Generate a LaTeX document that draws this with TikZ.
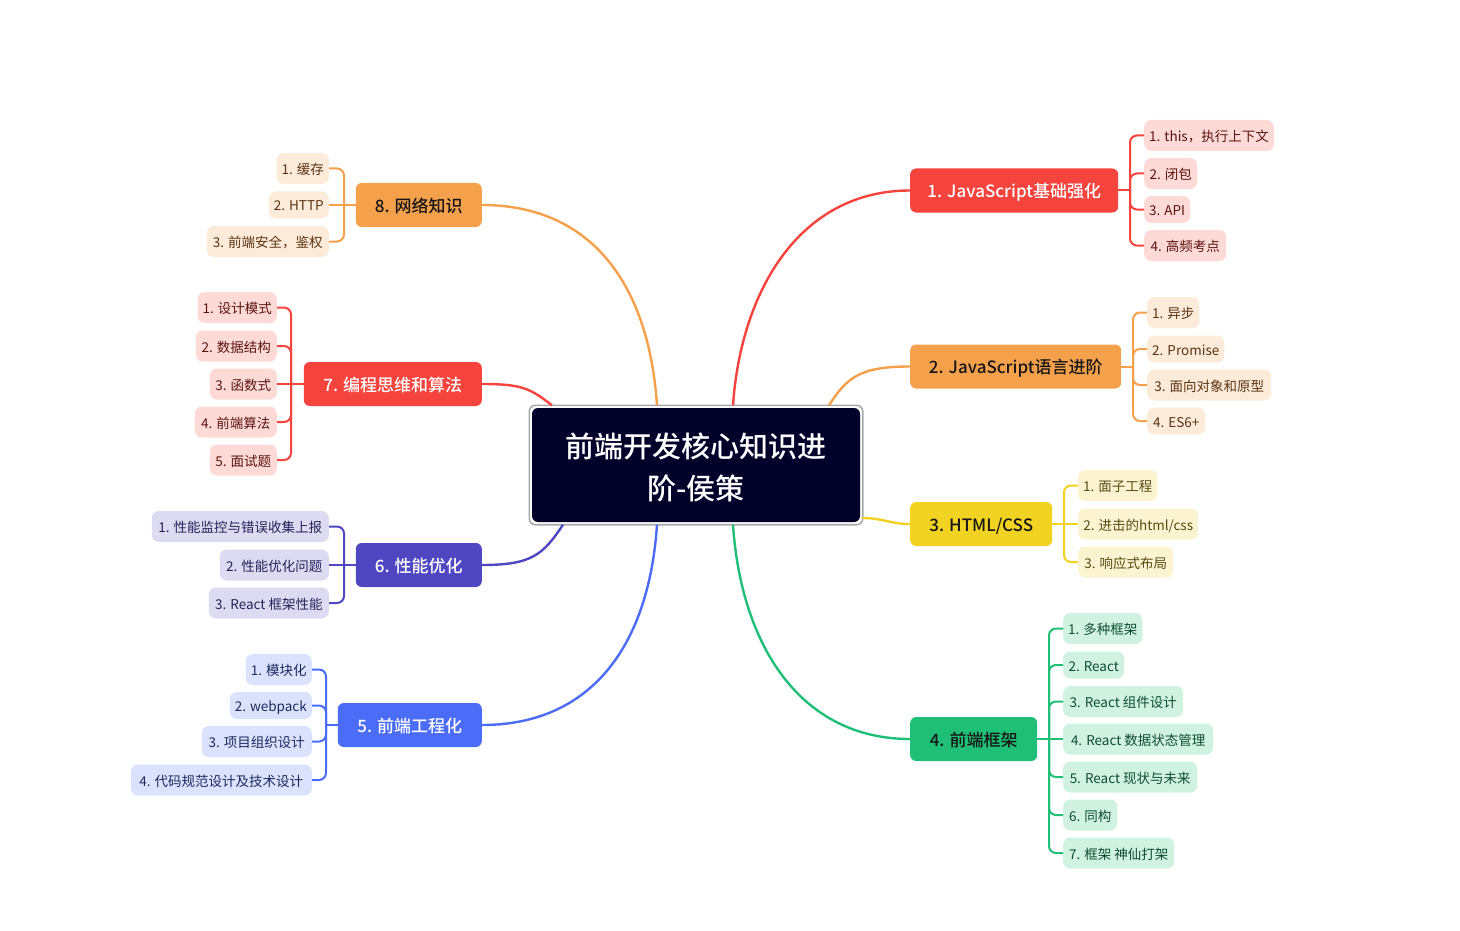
\documentclass[tikz,border=0pt]{standalone}
\usepackage{fontspec}
\newfontfamily\cjk{Noto Sans CJK SC}
\newfontfamily\cjkm{Noto Sans CJK SC Medium}
\usetikzlibrary{calc}
\definecolor{cRed}{HTML}{F5443D}
\definecolor{cOrange}{HTML}{F5A04B}
\definecolor{cYellow}{HTML}{F2D322}
\definecolor{cGreen}{HTML}{1FBF77}
\definecolor{cBlue}{HTML}{4A6CF7}
\definecolor{cIndigo}{HTML}{4F47C1}
\definecolor{lRed}{HTML}{FDDAD6}
\definecolor{lOrange}{HTML}{FDEBD9}
\definecolor{lYellow}{HTML}{FCF4D1}
\definecolor{lGreen}{HTML}{CFF2E1}
\definecolor{lBlue}{HTML}{DBE2FD}
\definecolor{lIndigo}{HTML}{DCDBF2}
\definecolor{tRed}{HTML}{5C1410}
\definecolor{tOrange}{HTML}{5A3414}
\definecolor{tYellow}{HTML}{574A12}
\definecolor{tGreen}{HTML}{0E4D31}
\definecolor{tBlue}{HTML}{1B2A5E}
\definecolor{tIndigo}{HTML}{25225A}
\definecolor{rootFill}{HTML}{02012A}
\definecolor{darkText}{HTML}{161616}
\definecolor{frameGray}{HTML}{A8A8A8}
\tikzset{
  mainbox/.style={rounded corners=6pt, minimum height=44pt, inner xsep=8pt, inner ysep=0pt,
    font=\cjkm\fontsize{17}{20}\selectfont, text height=16pt, text depth=1.5pt},
  leafbox/.style={rounded corners=7pt, minimum height=31pt, inner xsep=5pt, inner ysep=0pt,
    font=\cjk\fontsize{13.5}{16}\selectfont, text height=13pt, text depth=1pt},
  latin/.style={minimum height=27pt},
  curve/.style={line width=2.4pt},
  brace/.style={line width=2pt},
  rleaf/.style={leafbox, anchor=west},
  lleaf/.style={leafbox, anchor=east},
}
\begin{document}
\begin{tikzpicture}[x=1pt,y=-1pt]
\useasboundingbox (0,0) rectangle (1460,931);
% root
\node[fill=rootFill, text=white, rounded corners=6pt, minimum width=328pt, minimum height=114pt,
  inner sep=0pt, align=center, font=\cjkm\fontsize{29}{42}\selectfont] (root) at (696,465)
  {\rule{0pt}{29pt}前端开发核心知识进\\阶-侯策};
\draw[frameGray, line width=1.6pt, rounded corners=6pt]
  ([shift={(-2.5pt,-2.5pt)}]root.south west) rectangle ([shift={(2.5pt,2.5pt)}]root.north east);

% main nodes
\node[mainbox, anchor=west, fill=cRed, text=white, minimum width=208pt] (m1) at (910,190.5) {1. JavaScript基础强化};
\node[mainbox, anchor=west, fill=cOrange, text=darkText, minimum width=211pt] (m2) at (910,366.5) {2. JavaScript语言进阶};
\node[mainbox, anchor=west, fill=cYellow, text=darkText, minimum width=142pt] (m3) at (910,524) {3. HTML/CSS};
\node[mainbox, anchor=west, fill=cGreen, text=darkText, minimum width=127pt] (m4) at (910,739) {4. 前端框架};
\node[mainbox, anchor=east, fill=cBlue, text=white, minimum width=144pt] (m5) at (482,725) {5. 前端工程化};
\node[mainbox, anchor=east, fill=cIndigo, text=white, minimum width=126pt] (m6) at (482,565) {6. 性能优化};
\node[mainbox, anchor=east, fill=cRed, text=white, minimum width=178pt] (m7) at (482,384) {7. 编程思维和算法};
\node[mainbox, anchor=east, fill=cOrange, text=darkText, minimum width=126pt] (m8) at (482,205) {8. 网络知识};

% curves from root
\draw[curve, cRed] ([xshift=37pt,yshift=2.5pt]root.north) .. controls +(8pt,115pt) and +(-110pt,0pt) .. (m1.west);
\draw[curve, cOrange] ([xshift=133pt,yshift=2.5pt]root.north) .. controls +(18pt,28pt) and +(-50pt,0pt) .. (m2.west);
\draw[curve, cYellow] ([xshift=2.5pt,yshift=-53pt]root.east) .. controls +(20pt,0pt) and +(-20pt,0pt) .. (m3.west);
\draw[curve, cGreen] ([xshift=37pt,yshift=-2.5pt]root.south) .. controls +(8pt,-120pt) and +(-110pt,0pt) .. (m4.west);
\draw[curve, cBlue] ([xshift=-39pt,yshift=-2.5pt]root.south) .. controls +(-8pt,-120pt) and +(110pt,0pt) .. (m5.east);
\draw[curve, cIndigo] ([xshift=-133pt,yshift=-2.5pt]root.south) .. controls +(-20pt,-30pt) and +(50pt,0pt) .. (m6.east);
\draw[curve, cRed] ([xshift=-144pt,yshift=2.5pt]root.north) .. controls +(-22pt,17pt) and +(40pt,0pt) .. (m7.east);
\draw[curve, cOrange] ([xshift=-39pt,yshift=2.5pt]root.north) .. controls +(-8pt,120pt) and +(110pt,0pt) .. (m8.east);

% branch 1
\node[rleaf, fill=lRed, text=tRed, minimum width=129pt] (l11) at (1144,135.5) {1. this，执行上下文};
\node[rleaf, fill=lRed, text=tRed, minimum width=53pt] (l12) at (1144,173.5) {2. 闭包};
\node[rleaf, latin, fill=lRed, text=tRed, minimum width=45pt] (l13) at (1144,209.5) {3. API};
\node[rleaf, fill=lRed, text=tRed, minimum width=82pt] (l14) at (1144,245.5) {4. 高频考点};
\coordinate (b1) at (1130,190.5);
\draw[brace, cRed] (m1.east) -- (b1);
\foreach \c in {l11,l12,l13,l14} \draw[brace, cRed, rounded corners=7pt] (b1) |- (\c.west);

% branch 2
\node[rleaf, fill=lOrange, text=tOrange, minimum width=51pt] (l21) at (1147,312.5) {1. 异步};
\node[rleaf, latin, fill=lOrange, text=tOrange, minimum width=75pt] (l22) at (1147,349) {2. Promise};
\node[rleaf, fill=lOrange, text=tOrange, minimum width=124pt] (l23) at (1147,385) {3. 面向对象和原型};
\node[rleaf, latin, fill=lOrange, text=tOrange, minimum width=58pt] (l24) at (1147,421) {4. ES6+};
\coordinate (b2) at (1133,366.5);
\draw[brace, cOrange] (m2.east) -- (b2);
\foreach \c in {l21,l22,l23,l24} \draw[brace, cOrange, rounded corners=7pt] (b2) |- (\c.west);

% branch 3
\node[rleaf, fill=lYellow, text=tYellow, minimum width=79pt] (l31) at (1078,485.5) {1. 面子工程};
\node[rleaf, fill=lYellow, text=tYellow, minimum width=120pt] (l32) at (1078,524) {2. 进击的html/css};
\node[rleaf, fill=lYellow, text=tYellow, minimum width=95pt] (l33) at (1078,562) {3. 响应式布局};
\coordinate (b3) at (1064,524);
\draw[brace, cYellow] (m3.east) -- (l32.west);
\foreach \c in {l31,l33} \draw[brace, cYellow, rounded corners=7pt] (b3) |- (\c.west);

% branch 4
\node[rleaf, fill=lGreen, text=tGreen, minimum width=79pt] (l41) at (1063,628.5) {1. 多种框架};
\node[rleaf, latin, fill=lGreen, text=tGreen, minimum width=61pt] (l42) at (1063,665) {2. React};
\node[rleaf, fill=lGreen, text=tGreen, minimum width=120pt] (l43) at (1063,701.5) {3. React 组件设计};
\node[rleaf, fill=lGreen, text=tGreen, minimum width=150pt] (l44) at (1063,739) {4. React 数据状态管理};
\node[rleaf, fill=lGreen, text=tGreen, minimum width=134pt] (l45) at (1063,777) {5. React 现状与未来};
\node[rleaf, fill=lGreen, text=tGreen, minimum width=54pt] (l46) at (1063,815) {6. 同构};
\node[rleaf, fill=lGreen, text=tGreen, minimum width=111pt] (l47) at (1063,853) {7. 框架 神仙打架};
\coordinate (b4) at (1049,739);
\draw[brace, cGreen] (m4.east) -- (l44.west);
\foreach \c in {l41,l42,l43,l45,l46,l47} \draw[brace, cGreen, rounded corners=7pt] (b4) |- (\c.west);

% branch 5
\node[lleaf, fill=lBlue, text=tBlue, minimum width=66pt] (l51) at (312,669.5) {1. 模块化};
\node[lleaf, latin, fill=lBlue, text=tBlue, minimum width=82pt] (l52) at (312,705.5) {2. webpack};
\node[lleaf, fill=lBlue, text=tBlue, minimum width=110pt] (l53) at (312,741.5) {3. 项目组织设计};
\node[lleaf, fill=lBlue, text=tBlue, minimum width=181pt] (l54) at (312,780) {4. 代码规范设计及技术设计};
\coordinate (b5) at (326,725);
\draw[brace, cBlue] (m5.west) -- (b5);
\foreach \c in {l51,l52,l53,l54} \draw[brace, cBlue, rounded corners=7pt] (b5) |- (\c.east);

% branch 6
\node[lleaf, fill=lIndigo, text=tIndigo, minimum width=177pt] (l61) at (329,526.5) {1. 性能监控与错误收集上报};
\node[lleaf, fill=lIndigo, text=tIndigo, minimum width=109pt] (l62) at (329,565) {2. 性能优化问题};
\node[lleaf, fill=lIndigo, text=tIndigo, minimum width=120pt] (l63) at (329,603) {3. React 框架性能};
\coordinate (b6) at (344,565);
\draw[brace, cIndigo] (m6.west) -- (l62.east);
\foreach \c in {l61,l63} \draw[brace, cIndigo, rounded corners=7pt] (b6) |- (\c.east);

% branch 7
\node[lleaf, fill=lRed, text=tRed, minimum width=79pt] (l71) at (277,307.5) {1. 设计模式};
\node[lleaf, fill=lRed, text=tRed, minimum width=81pt] (l72) at (277,346) {2. 数据结构};
\node[lleaf, fill=lRed, text=tRed, minimum width=67pt] (l73) at (277,384) {3. 函数式};
\node[lleaf, fill=lRed, text=tRed, minimum width=82pt] (l74) at (277,422) {4. 前端算法};
\node[lleaf, fill=lRed, text=tRed, minimum width=67pt] (l75) at (277,460) {5. 面试题};
\coordinate (b7) at (291,384);
\draw[brace, cRed] (m7.west) -- (l73.east);
\foreach \c in {l71,l72,l74,l75} \draw[brace, cRed, rounded corners=7pt] (b7) |- (\c.east);

% branch 8
\node[lleaf, fill=lOrange, text=tOrange, minimum width=51pt] (l81) at (329,168.5) {1. 缓存};
\node[lleaf, latin, fill=lOrange, text=tOrange, minimum width=60pt] (l82) at (329,205) {2. HTTP};
\node[lleaf, fill=lOrange, text=tOrange, minimum width=122pt] (l83) at (329,241.5) {3. 前端安全，鉴权};
\coordinate (b8) at (344,205);
\draw[brace, cOrange] (m8.west) -- (l82.east);
\foreach \c in {l81,l83} \draw[brace, cOrange, rounded corners=7pt] (b8) |- (\c.east);
\end{tikzpicture}
\end{document}
